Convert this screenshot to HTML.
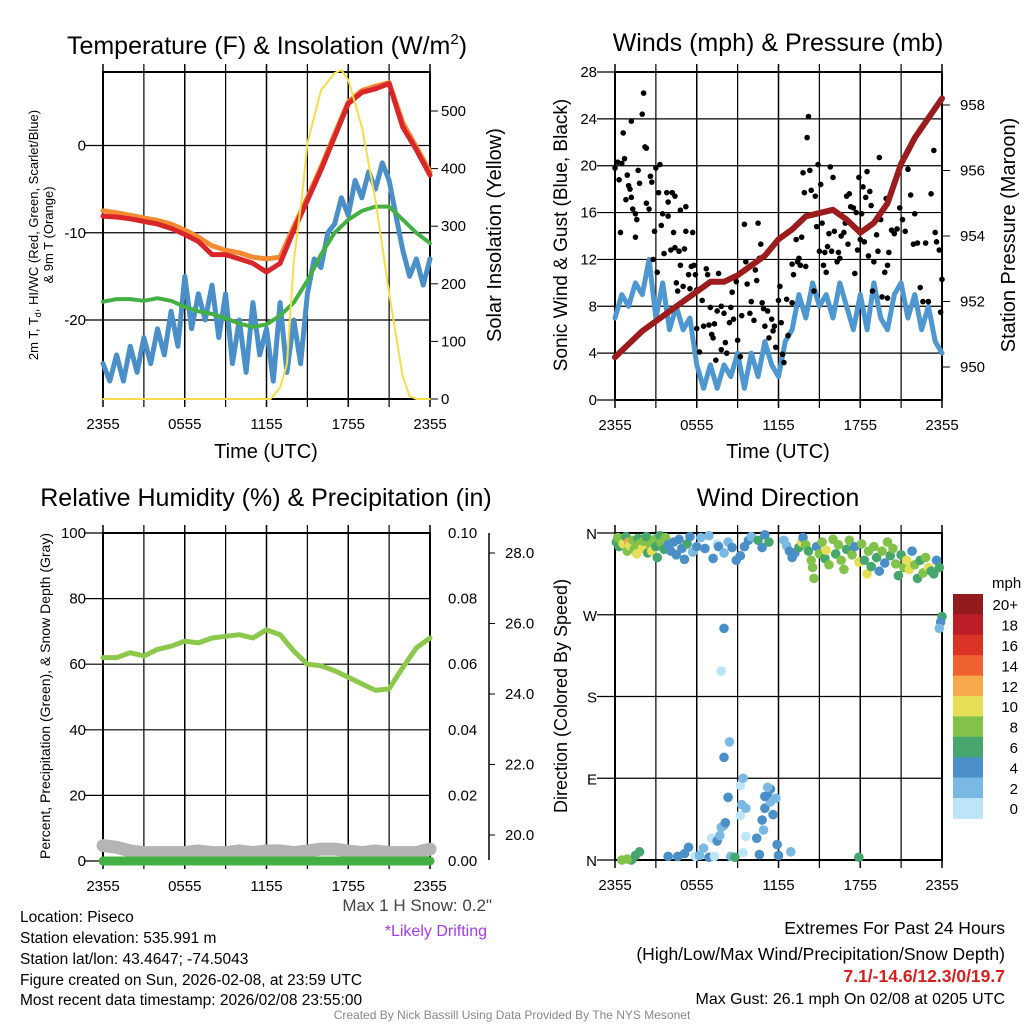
<!DOCTYPE html>
<html><head><meta charset="utf-8"><style>
body{margin:0;background:#fff}
svg{display:block;font-family:"Liberation Sans",sans-serif}
</style></head><body>
<svg id="c" width="1024" height="1024" viewBox="0 0 1024 1024">
<rect width="1024" height="1024" fill="#fff"/>
<g id="g1"></g>
<g id="g2"></g>
<g id="g3"></g>
<g id="g4"></g>
<g font-size="25" text-anchor="middle" fill="#000">
<text x="267" y="54">Temperature (F) &amp; Insolation (W/m<tspan font-size="15" dy="-10">2</tspan><tspan dy="10">)</tspan></text>
<text x="778" y="51">Winds (mph) &amp; Pressure (mb)</text>
<text x="266" y="506">Relative Humidity (%) &amp; Precipitation (in)</text>
<text x="778" y="506">Wind Direction</text>
</g>
<g font-size="20" text-anchor="middle">
<text x="266" y="458">Time (UTC)</text>
<text x="778" y="458">Time (UTC)</text>
<text transform="translate(501,235) rotate(-90)">Solar Insolation (Yellow)</text>
<text transform="translate(1015,235) rotate(-90)">Station Pressure (Maroon)</text>
<text transform="translate(567,235) rotate(-90)" font-size="19">Sonic Wind &amp; Gust (Blue, Black)</text>
<text transform="translate(567,696) rotate(-90)" font-size="18">Direction (Colored By Speed)</text>
</g>
<g font-size="13" text-anchor="middle">
<text transform="translate(38,235) rotate(-90)">2m T, T<tspan font-size="9" dy="3">d</tspan><tspan dy="-3">, HI/WC (Red, Green, Scarlet/Blue)</tspan></text>
<text transform="translate(53,235) rotate(-90)">&amp; 9m T (Orange)</text>
<text transform="translate(50,696) rotate(-90)" font-size="14">Percent, Precipitation (Green), &amp; Snow Depth (Gray)</text>
</g>
<g font-size="15.5">
<text x="20" y="922">Location: Piseco</text>
<text x="20" y="943">Station elevation: 535.991 m</text>
<text x="20" y="964">Station lat/lon: 43.4647; -74.5043</text>
<text x="20" y="985">Figure created on Sun, 2026-02-08, at 23:59 UTC</text>
<text x="20" y="1005">Most recent data timestamp: 2026/02/08 23:55:00</text>
<text x="492" y="911" text-anchor="end" fill="#444" font-size="17">Max 1 H Snow: 0.2"</text>
<text x="487" y="936" text-anchor="end" fill="#a43de8" font-size="16">*Likely Drifting</text>
</g>
<g font-size="17.5" text-anchor="end">
<text x="1005" y="934">Extremes For Past 24 Hours</text>
<text x="1005" y="960">(High/Low/Max Wind/Precipitation/Snow Depth)</text>
<text x="1005" y="982" fill="#d42020" font-weight="bold">7.1/-14.6/12.3/0/19.7</text>
<text x="1005" y="1004" font-size="16">Max Gust: 26.1 mph On 02/08 at 0205 UTC</text>
</g>
<text x="512" y="1019" font-size="12" text-anchor="middle" fill="#888">Created By Nick Bassill Using Data Provided By The NYS Mesonet</text>
</svg>
<script>
const xTickLabels=["2355","0555","1155","1755","2355"];
const hrs=[0,1,2,3,4,5,6,7,8,9,10,11,12,13,14,15,16,17,18,19,20,21,22,23,24];
const tempRed=[-8.1,-8.2,-8.4,-8.7,-9,-9.5,-10.2,-11,-12.5,-12.5,-13,-13.5,-14.5,-13.5,-9.7,-6.3,-2.8,1,4.8,6.1,6.5,7.1,2.1,-0.5,-3.4];
const tempOrange=[-7.5,-7.7,-8,-8.3,-8.6,-9,-9.7,-10.5,-11.5,-12,-12.3,-12.8,-13,-12.8,-9.3,-6,-2.5,1.3,5,6.3,6.8,7.2,2.6,-0.2,-3];
const dewGreen=[-17.9,-17.6,-17.6,-17.8,-17.5,-17.8,-18.5,-19,-19.3,-19.8,-20.4,-20.8,-20.5,-19.5,-18,-15.5,-12.5,-10,-8.5,-7.5,-7,-7,-8.5,-10,-11.2];
const wcBlue=[-25,-27,-24,-27,-23,-26,-22,-25,-21,-24,-19,-23,-15,-21,-17,-20,-16,-22,-17,-25,-20,-26,-18,-24,-21,-27,-18,-26,-20,-25,-17,-13,-14,-10,-9,-6,-8,-4,-6,-3,-5,-2,-4,-8,-12,-15,-13,-16,-13];
const solHours=[0,12.3,13,13.5,14,14.6,15,16,17,17.5,18,19,20,21,22,22.5,23,24];
const solVals=[0,0,20,60,240,350,444,536,566,571,554,472,345,184,38,5,0,0];
const tempTicks=[0,-10,-20];
const solTicks=[0,100,200,300,400,500];
const pressure=[950.3,950.7,951.1,951.4,951.7,952,952.3,952.6,952.6,952.8,953.1,953.4,953.9,954.2,954.6,954.7,954.8,954.5,954.1,954.4,955,956.2,957,957.6,958.2];
const sonic=[7,9,8,10,9,12,7,10,6,8,6,7,3,1,3,1,3,2,4,1,4,2,5,3,2,5,6,9,7,10,8,9,7,10,8,6,9,6,10,7,6,9,10,7,9,6,8,5,4];
const gustH=[0,.2,.3,.4,.5,.6,.7,.8,.9,1,1.1,1.2,1.2,1.3,1.5,1.5,1.6,1.7,1.8,2,2.1,2.2,2.3,2.3,2.5,2.6,2.7,2.8,2.9,3,3.1,3.2,3.3,3.4,3.5,3.6,3.8,3.9,3.9,4.1,4.2,4.3,4.4,4.4,4.5,4.6,4.7,4.8,4.8,5,5.1,5.2,5.2,5.4,5.5,5.6,5.7,5.8,5.9,6,6,6.2,6.4,6.5,6.7,6.8,6.9,7,7.1,7.2,7.3,7.4,7.5,7.6,7.8,7.8,8,8.1,8.2,8.4,8.5,8.6,8.7,8.9,9,9.2,9.3,9.5,9.6,9.7,9.9,10,10.2,10.3,10.4,10.5,10.6,10.7,10.8,10.9,11,11.2,11.3,11.5,11.6,11.7,11.8,12,12.1,12.2,12.3,12.4,12.6,12.7,13,13,13.1,13.3,13.4,13.5,13.6,13.7,13.8,13.9,14,14.1,14.2,14.3,14.4,14.5,14.6,14.7,14.8,14.9,15,15.1,15.2,15.3,15.4,15.5,15.6,15.7,15.8,15.9,16,16.1,16.3,16.4,16.5,16.6,16.8,16.9,17,17.1,17.2,17.3,17.5,17.6,17.7,17.8,17.9,18,18.1,18.2,18.3,18.4,18.5,18.6,18.7,18.8,18.9,19,19.2,19.3,19.4,19.5,19.6,19.8,19.9,20,20,20.1,20.3,20.5,20.7,20.9,21.1,21.3,21.5,21.7,21.9,22,22.2,22.4,22.6,22.8,23,23.2,23.4,23.5,23.6,23.8,23.9,24];
const gustV=[19.8,20.3,18.8,14.3,20.2,22.8,20.6,17.1,19.2,18.3,18,17.3,23.8,16.3,15.9,13.9,15.4,19.6,18.5,24.4,26.2,21.6,21.5,16.8,16.3,19.1,18.6,12,14.4,19.8,10.9,17.7,20.1,14.9,15.9,12.5,17.7,16.9,15.7,12.8,17.7,14.3,13,17.4,10,9.3,12.7,16.2,11.5,9.7,12.9,16.5,14.4,10.7,9.5,11.4,14.3,11.5,10.7,9.4,6.1,4.1,8.5,6.3,11.2,10.7,6.4,7.9,5.6,5.3,6.5,3.4,7.6,10.8,8,4.3,7.4,4.9,4,6.6,7.9,9.2,6.9,10.1,5.1,3.7,7.2,15,11.8,9.9,7.4,8.4,6.8,11.1,10.2,15.1,12.1,13.3,8.3,7.8,6.3,7.6,5.3,6.9,5.9,6.3,4.5,8.5,9.7,6.6,3.9,3.2,8.6,5.5,8.3,11.6,10.7,13.7,11.8,12.1,11.5,13.9,19.4,17.7,11.4,22.4,24.2,19.6,17.9,15.8,9.3,17.4,14.8,20.1,12.7,18.4,15.1,11.5,12.6,10.9,13.1,14.2,19.9,12.7,19,14.4,11.8,12.6,12.1,14,14.3,15.1,17.4,13.3,17.6,16.5,16.4,10.8,16,12.8,19,13.7,15.9,18.2,13.5,17.3,19.5,12.3,17.8,16.6,9.3,11.8,14.1,12.7,20.7,15.4,8.8,10.9,17.2,11.5,8.7,12.6,14.5,14.2,14.6,16.4,15.4,14.4,19.7,17.5,13.3,15.9,13.4,9.6,8.4,13.4,8.4,17.6,21.3,14.3,13.5,12.8,7.5,10.3];
const windTicks=[0,4,8,12,16,20,24,28];
const presTicks=[950,952,954,956,958];
const rh=[62,62,63.5,62.5,64.5,65.5,67,66.5,68,68.5,69,68,70.5,69,64,60,59.5,58,56,54,52,52.5,59,65,68];
const snowDepth=[19.7,19.65,19.55,19.5,19.5,19.5,19.5,19.55,19.5,19.5,19.55,19.5,19.55,19.55,19.5,19.55,19.6,19.6,19.55,19.5,19.55,19.5,19.5,19.5,19.6];
const precip=[0,0,0,0,0,0,0,0,0,0,0,0,0,0,0,0,0,0,0,0,0,0,0,0,0];
const rhTicks=[0,20,40,60,80,100];
const precipTicks=["0.00","0.02","0.04","0.06","0.08","0.10"];
const snowTicks=[20,22,24,26,28];
const dirLabels=["N","E","S","W","N"];
const wdH=[0.1,0.2,0.3,0.5,0.6,0.8,0.9,1.0,1.1,1.3,1.4,1.6,1.7,1.8,2.0,2.1,2.3,2.4,2.6,2.7,2.9,3.0,3.1,3.3,3.4,3.6,3.7,3.9,4.1,4.3,4.5,4.7,4.9,5.1,5.3,5.5,5.7,6.0,6.3,6.6,6.9,7.2,7.5,7.6,8.0,8.3,8.6,8.9,9.2,9.5,9.8,10.0,10.5,10.8,11.0,11.3,
1.2,0.5,0.9,1.5,1.8,3.9,4.6,5.1,5.4,5.9,6.2,6.5,6.9,7.3,7.1,7.8,7.5,7.7,8.0,8.1,8.3,8.5,8.8,9.4,9.6,9.2,9.3,9.6,9.2,8.4,8.0,9.4,7.8,8.0,10.4,10.6,10.9,10.8,11.0,11.2,11.4,11.4,11.6,11.0,11.2,11.8,11.9,12.0,12.9,17.9,
12.4,12.6,12.8,13.0,13.2,13.5,13.7,13.8,14.0,14.2,14.4,14.5,14.6,14.8,15.0,15.2,15.4,15.5,15.7,16.0,16.2,16.4,16.6,16.8,17.0,17.2,17.4,17.6,17.9,18.1,18.3,18.5,18.6,18.8,19.0,19.2,19.4,19.6,19.8,20.0,20.2,20.4,20.6,20.8,21.0,21.2,21.4,21.6,21.8,22.0,22.2,22.4,22.6,22.8,23.0,23.2,23.4,23.6,23.8,24.0,23.9,23.8];
const wdDeg=[350,355,345,352,348,356,340,350,346,352,342,337,354,348,343,351,356,338,347,340,353,345,333,357,349,342,355,347,340,350,336,353,343,331,348,356,339,345,355,343,357,332,348,345,338,350,344,330,335,345,352,356,352,344,358,350,
0,0,1,5,9,4,4,7,14,4,5,13,3,4,24,36,21,27,38,41,69,4,3,8,26,49,61,57,82,130,113,90,208,255,24,6,33,44,57,70,64,78,50,70,80,68,17,5,9,3,
352,346,340,333,338,344,350,355,347,340,330,322,310,345,337,350,332,341,325,353,337,347,330,320,342,352,336,345,328,348,330,315,340,323,345,333,318,340,327,350,335,343,326,313,336,322,330,320,340,325,310,330,316,333,322,318,315,330,322,268,262,255];
const wdSpd=[7,8,6,9,10,7,8,12,10,9,8,10,7,9,10,8,7,6,9,10,8,6,6,7,8,6,8,4,4,5,4,4,5,4,6,4,2,4,2,4,2,4,1,4,2,2,4,4,4,4,4,2,6,4,4,6,
7,8,8,7,7,4,4,4,4,1,2,2,4,0,1,2,4,2,2,4,4,2,6,0,0,0,2,2,1,2,4,2,0,4,4,4,2,4,4,4,2,4,4,4,2,2,4,4,2,6,
2,2,4,4,4,6,10,4,8,6,8,8,8,4,8,8,6,10,8,8,6,8,8,8,6,8,8,4,10,8,6,10,8,6,8,6,4,8,4,8,6,8,8,6,6,8,10,10,4,8,6,6,8,8,10,6,6,4,6,6,4,2];
const speedLabels=["20+","18","16","14","12","10","8","6","4","2","0"];
const speedColors=["#931a1d","#bd1d26","#dc3327","#ef6130","#f6a94a","#e5df55","#82c24a","#46a66e","#4a8fc8","#7ab9e4","#bde5f8"];

const NS="http://www.w3.org/2000/svg";
function mk(parent,tag,attrs,txt){const e=document.createElementNS(NS,tag);for(const k in attrs)e.setAttribute(k,attrs[k]);if(txt!==undefined)e.textContent=txt;parent.appendChild(e);return e;}
function lin(d0,d1,r0,r1){return v=>r0+(v-d0)/(d1-d0)*(r1-r0);}
function pathD(xs,ys,sx,sy){return xs.map((x,i)=>(i?"L":"M")+sx(x).toFixed(1)+","+sy(ys[i]).toFixed(1)).join("");}
function grid(g,L,R,T,B,xsc,yLines){
  for(let h=0;h<=24;h+=3){const l=mk(g,"line",{x1:xsc(h),x2:xsc(h),y1:T-8,y2:B+8,stroke:"#000","stroke-width":h%6?1.2:1.5});
    
    }
  yLines.forEach(y=>{const l=mk(g,"line",{x1:L-18,x2:R,y1:y,y2:y,stroke:"#000","stroke-width":1.2});
    
    });
  const r=mk(g,"rect",{x:L,y:T,width:R-L,height:B-T,fill:"none",stroke:"#000","stroke-width":2});
  
  
  xTickLabels.forEach((t,i)=>{const e=mk(g,"text",{x:xsc(i*6),y:B+30,"font-size":15,"text-anchor":"middle"},t);
    
    });
}
function line(g,xs,ys,sx,sy,col,w,name){const p=mk(g,"path",{d:pathD(xs,ys,sx,sy),fill:"none",stroke:col,"stroke-width":w,"stroke-linejoin":"round","stroke-linecap":"round"});
  
  return p;}
const half=sonic.map((_,i)=>i/2);

{const g=document.getElementById("g1");const L=103,R=430,T=72,B=399;
 const sx=lin(0,24,L,R),sy=lin(0,-20,145.5,320),ss=lin(0,500,399,111);
 grid(g,L,R,T,B,sx,tempTicks.map(sy));
 tempTicks.forEach(v=>{const e=mk(g,"text",{x:86,y:sy(v)+5,"font-size":15,"text-anchor":"end"},String(v));
   
   });
 solTicks.forEach(v=>{const e=mk(g,"text",{x:441,y:ss(v)+5,"font-size":15},String(v));
   
   
   mk(g,"line",{x1:R,x2:R+8,y1:ss(v),y2:ss(v),stroke:"#000"});});
 line(g,half,wcBlue,sx,sy,"#4a8fc8",5,"wind-chill-line");
 line(g,hrs,dewGreen,sx,sy,"#44b044",4,"dewpoint-line");
 line(g,hrs,tempOrange,sx,sy,"#f58a30",5,"temp-9m-line");
 line(g,hrs,tempRed,sx,sy,"#d8262a",5,"temp-2m-line");
 line(g,solHours,solVals,sx,ss,"#f8dc4a",2,"insolation-line");}

{const g=document.getElementById("g2");const L=615,R=942,T=72,B=400;
 const sx=lin(0,24,L,R),sy=lin(0,28,B,T),sp=lin(950,958,367,105);
 grid(g,L,R,T,B,sx,windTicks.map(sy));
 windTicks.forEach(v=>{const e=mk(g,"text",{x:597,y:sy(v)+5,"font-size":15,"text-anchor":"end"},String(v));
   
   });
 presTicks.forEach(v=>{const e=mk(g,"text",{x:960,y:sp(v)+5,"font-size":15},String(v));
   
   
   mk(g,"line",{x1:R,x2:R+8,y1:sp(v),y2:sp(v),stroke:"#000"});});
 line(g,half,sonic,sx,sy,"#4f97d0",5,"sonic-wind-line");
 gustH.forEach((h,i)=>{const c=mk(g,"circle",{cx:sx(h),cy:sy(gustV[i]),r:2.8,fill:"#000"});
   
   });
 line(g,hrs,pressure,sx,sp,"#9b1c1c",6,"pressure-line");}

{const g=document.getElementById("g3");const L=103,R=430,T=533,B=861;
 const sx=lin(0,24,L,R),sy=lin(0,100,B,T),sd=lin(20,28,835,553);
 grid(g,L,R,T,B,sx,rhTicks.map(sy));
 rhTicks.forEach((v,i)=>{const e=mk(g,"text",{x:86,y:sy(v)+5,"font-size":15,"text-anchor":"end"},String(v));
   
   
   const f=mk(g,"text",{x:448,y:sy(v)+5,"font-size":15},precipTicks[i]);
   
   });
 const ax=mk(g,"line",{x1:489,x2:489,y1:533,y2:860,stroke:"#000","stroke-width":1.5});
 
 
 snowTicks.forEach(v=>{mk(g,"line",{x1:489,x2:495,y1:sd(v),y2:sd(v),stroke:"#000"});
   const e=mk(g,"text",{x:505,y:sd(v)+5,"font-size":15},v.toFixed(1));
   
   });
 line(g,hrs,snowDepth,sx,sd,"#b4b4b4",13,"snow-depth-line");
 line(g,hrs,precip,sx,sy,"#44b044",9,"precip-line");
 line(g,hrs,rh,sx,sy,"#8cc84b",5,"rh-line");}

{const g=document.getElementById("g4");const L=615,R=942,T=533,B=860;
 const sx=lin(0,24,L,R),sy=lin(0,360,B,T);
 grid(g,L,R,T,B,sx,[0,90,180,270,360].map(sy));
 dirLabels.forEach((t,i)=>{const e=mk(g,"text",{x:597,y:sy(i*90)+6,"font-size":15,"text-anchor":"end"},t);
   
   });
 function col(s){let i=Math.floor(s/2);if(i>10)i=10;return speedColors[10-i];}
 wdH.forEach((h,i)=>{const c=mk(g,"circle",{cx:sx(h),cy:sy(wdDeg[i]),r:4.8,fill:col(wdSpd[i])});
   
   });
 const bt=594,bh=20.4;
 const m=mk(g,"text",{x:992,y:588,"font-size":15},"mph");
 
 
 speedLabels.forEach((t,i)=>{const r=mk(g,"rect",{x:953,y:bt+i*bh,width:30,height:bh+0.5,fill:speedColors[i]});
   
   
   const e=mk(g,"text",{x:1018,y:bt+i*bh+bh/2+6,"font-size":15,"text-anchor":"end"},t);
   
   });}
</script>
</body></html>
